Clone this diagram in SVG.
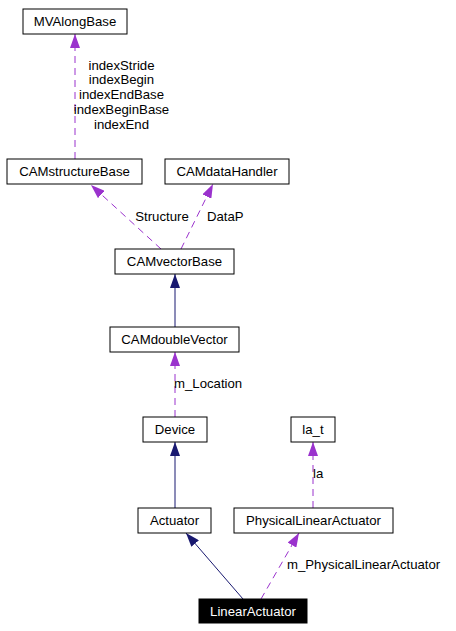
<svg xmlns="http://www.w3.org/2000/svg" width="456" height="631" viewBox="0 0 456 631">
<style>
  text { font-family: "Liberation Sans", Arial, sans-serif; font-size: 13.2px; fill: #000; }
  .node rect { fill: #fff; stroke: #000; stroke-width: 1; }
  .node text { text-anchor: middle; }
  #LinearActuator rect { fill: #000; }
  #LinearActuator text { fill: #fff; }
  .inh { stroke: #191970; stroke-width: 1; fill: none; marker-end: url(#arrNavy); }
  .use { stroke: #9a32cd; stroke-width: 1; fill: none; stroke-dasharray: 7,5; marker-end: url(#arrPurple); }
</style>
<defs>
  <marker id="arrNavy" viewBox="0 0 14 10" refX="14" refY="5" markerWidth="14" markerHeight="10" markerUnits="userSpaceOnUse" orient="auto">
    <path d="M0,0 L14,5 L0,10 z" fill="#191970"/>
  </marker>
  <marker id="arrPurple" viewBox="0 0 14 10" refX="14" refY="5" markerWidth="14" markerHeight="10" markerUnits="userSpaceOnUse" orient="auto">
    <path d="M0,0 L14,5 L0,10 z" fill="#9a32cd"/>
  </marker>
</defs>

<g id="connectors">
  <path class="use" d="M75,159 L75,34"/>
  <path class="use" d="M161,249 L91,185"/>
  <path class="use" d="M181,249 L213,184"/>
  <path class="inh" d="M175,327 L175,274"/>
  <path class="use" d="M175,417 L175,352"/>
  <path class="inh" d="M175,508 L175,442"/>
  <path class="use" d="M313,508 L313,442"/>
  <path class="inh" d="M243,599 L186,533"/>
  <path class="use" d="M261,599 L299,533"/>
  <g>
    <text x="121.5" y="69.5" text-anchor="middle">indexStride</text>
    <text x="121.5" y="84.3" text-anchor="middle">indexBegin</text>
    <text x="121.5" y="99" text-anchor="middle">indexEndBase</text>
    <text x="121.5" y="113.8" text-anchor="middle">indexBeginBase</text>
    <text x="121.5" y="128.5" text-anchor="middle">indexEnd</text>
    <text x="162" y="220.5" text-anchor="middle">Structure</text>
    <text x="207" y="220.5">DataP</text>
    <text x="174" y="388">m_Location</text>
    <text x="313" y="478">la</text>
    <text x="287" y="569">m_PhysicalLinearActuator</text>
  </g>
</g>

<g id="MVAlongBase" class="node"><rect x="23" y="9" width="104" height="25"/><text x="75" y="26">MVAlongBase</text></g>
<g id="CAMstructureBase" class="node"><rect x="7" y="159" width="135" height="25"/><text x="74.5" y="176">CAMstructureBase</text></g>
<g id="CAMdataHandler" class="node"><rect x="165" y="159" width="124" height="25"/><text x="227" y="176">CAMdataHandler</text></g>
<g id="CAMvectorBase" class="node"><rect x="115" y="249" width="119" height="25"/><text x="174.5" y="266">CAMvectorBase</text></g>
<g id="CAMdoubleVector" class="node"><rect x="110" y="327" width="129" height="25"/><text x="174.5" y="344">CAMdoubleVector</text></g>
<g id="Device" class="node"><rect x="143" y="417" width="64" height="25"/><text x="175" y="434">Device</text></g>
<g id="la_t" class="node"><rect x="291" y="417" width="44" height="25"/><text x="313" y="434">la_t</text></g>
<g id="Actuator" class="node"><rect x="138" y="508" width="73" height="25"/><text x="174.5" y="525">Actuator</text></g>
<g id="PhysicalLinearActuator" class="node"><rect x="234" y="508" width="159" height="25"/><text x="313.5" y="525">PhysicalLinearActuator</text></g>
<g id="LinearActuator" class="node"><rect x="199" y="599" width="108" height="24"/><text x="253" y="616">LinearActuator</text></g>
</svg>
